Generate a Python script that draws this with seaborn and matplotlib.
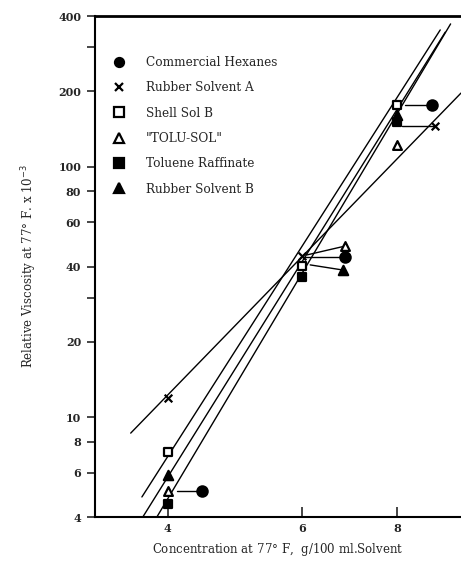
import matplotlib
matplotlib.use("Agg")
import matplotlib.pyplot as plt
import seaborn as sns
import pandas as pd
from matplotlib.lines import Line2D

# ---- data ----
solvents = ["Commercial Hexanes", "Rubber Solvent A", "Shell Sol B",
            "\"TOLU-SOL\"", "Toluene Raffinate", "Rubber Solvent B"]
hexanes_x = [4.43, 6.84, 8.89]
hexanes_y = [5.1, 43.6, 176]
rsa_x = [4.0, 6.0, 8.97]
rsa_y = [11.9, 44, 145]
shell_x = [4.0, 6.0, 8.0]
shell_y = [7.3, 40.1, 176]
tolu_x = [4.0, 6.84, 8.0]
tolu_y = [5.1, 48.3, 122]
raff_x = [4.0, 6.0, 8.0]
raff_y = [4.5, 36.3, 151]
rsb_x = [4.0, 6.8, 8.0]
rsb_y = [5.9, 38.7, 161]

# fitted lines (end points)
fit_x = [[3.576, 9.70], [3.699, 9.11], [3.709, 9.25], [3.87, 9.40]]
fit_y = [[8.65, 197], [4.81, 352], [4.0, 345], [4.0, 372]]

# leader lines from offset markers to their true positions
lead_x = [[8.89, 8.19], [8.97, 8.12], [6.84, 6.09], [6.84, 6.05], [6.8, 6.15], [4.43, 4.11]]
lead_y = [[176, 176], [145, 145], [48.3, 44.5], [43.6, 43.6], [38.7, 40.6], [5.1, 5.1]]

x_ticks = [4, 6, 8]
y_ticks = [4, 6, 8, 10, 20, 30, 40, 60, 80, 100, 200, 300, 400]
y_labels = ["4", "6", "8", "10", "20", "", "40", "60", "80", "100", "200", "", "400"]

# ---- style ----
sns.set_style("white")
plt.rcParams["font.family"] = ["DejaVu Serif", "DejaVu Sans"]

fig = plt.figure(figsize=(4.61, 5.64), dpi=100)
ax = fig.add_axes([0.206, 0.0833, 0.794, 0.8883])

# lines
for fx, fy in zip(fit_x, fit_y):
    d = pd.DataFrame({"x": fx, "y": fy})
    sns.lineplot(data=d, x="x", y="y", ax=ax, color="black", lw=1.0, sort=False)
for lx, ly in zip(lead_x, lead_y):
    d = pd.DataFrame({"x": lx, "y": ly})
    sns.lineplot(data=d, x="x", y="y", ax=ax, color="black", lw=1.0, sort=False)

series = [
    (hexanes_x, hexanes_y, "o", "black", 55),
    (rsa_x, rsa_y, "x", "black", 30),
    (shell_x, shell_y, "s", "white", 40),
    (tolu_x, tolu_y, "^", "white", 40),
    (raff_x, raff_y, "s", "black", 40),
    (rsb_x, rsb_y, "^", "black", 45),
]
handles = []
for name, (sx, sy, m, fc, s) in zip(solvents, series):
    d = pd.DataFrame({"x": sx, "y": sy})
    if m == "x":
        sns.scatterplot(data=d, x="x", y="y", ax=ax, marker=m, color="black",
                        s=s, linewidth=1.6, zorder=5)
        handles.append(Line2D([], [], marker=m, color="black", ls="none",
                              markersize=6, markeredgewidth=1.6))
    else:
        sns.scatterplot(data=d, x="x", y="y", ax=ax, marker=m, facecolor=fc,
                        edgecolor="black", s=s, linewidth=1.6, zorder=5)
        handles.append(Line2D([], [], marker=m, markerfacecolor=fc, color="black",
                              ls="none", markersize=6.5, markeredgewidth=1.6))

ax.set_xscale("log")
ax.set_yscale("log")
ax.set_xlim(3.21, 9.70)
ax.set_ylim(4, 400)

ax.set_xticks(x_ticks)
ax.set_xticklabels([str(t) for t in x_ticks])
ax.set_yticks(y_ticks)
ax.set_yticklabels(y_labels)
ax.minorticks_off()
ax.tick_params(axis="x", which="both", direction="in", length=7, width=1.2,
               labelsize=8, pad=4, bottom=True)
ax.tick_params(axis="y", which="both", direction="out", length=6, width=1.2,
               labelsize=8, pad=4, left=True)
for lab in ax.get_xticklabels() + ax.get_yticklabels():
    lab.set_fontweight("bold")

for sp in ["left", "bottom"]:
    ax.spines[sp].set_linewidth(1.5)
    ax.spines[sp].set_color("black")
ax.spines["top"].set_linewidth(2.0)
ax.spines["top"].set_color("black")
ax.spines["right"].set_visible(False)

ax.set_xlabel("Concentration at 77$\\degree$ F,  g/100 ml.Solvent", fontsize=8.5, labelpad=5)
ax.set_ylabel("Relative Viscosity at 77$\\degree$ F. x 10$^{-3}$", fontsize=8.5, labelpad=14)

ax.legend(handles, solvents, loc="upper left", bbox_to_anchor=(0.034, 0.93),
          frameon=False, fontsize=8.7, handlelength=1.2, handletextpad=1.6,
          labelspacing=1.02, borderaxespad=0)

fig.savefig("out.png", dpi=100)
